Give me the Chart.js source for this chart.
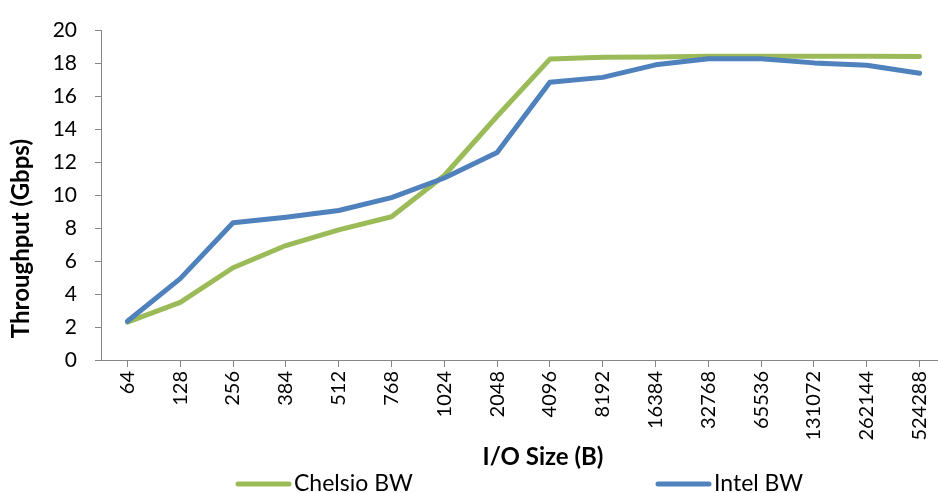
<!DOCTYPE html>
<html>
<head>
<meta charset="utf-8">
<script src="https://cdn.jsdelivr.net/npm/chart.js@4.4.1/dist/chart.umd.min.js"></script>
<style>
  html, body { margin: 0; padding: 0; background: #fff; overflow: hidden; }
</style>
</head>
<body>
<canvas id="grafico" width="960" height="493"></canvas>
<script>
// I/O sizes in bytes (category axis)
const ioSizes = ['64', '128', '256', '384', '512', '768', '1024', '2048', '4096',
  '8192', '16384', '32768', '65536', '131072', '262144', '524288'];

// throughput in Gbps
const chelsioBW = [2.3, 3.5, 5.6, 6.95, 7.9, 8.7, 11.2, 14.8, 18.27, 18.38,
  18.4, 18.45, 18.45, 18.45, 18.45, 18.43];
const intelBW = [2.35, 4.94, 8.33, 8.67, 9.08, 9.86, 11.05, 12.6, 16.86, 17.16,
  17.92, 18.29, 18.29, 18.04, 17.9, 17.41];

const yTitle = 'Throughput (Gbps)';
const xTitle = 'I/O Size (B)';

const axisGray = '#868686';
Chart.defaults.font.family = 'Lato, "Open Sans", sans-serif';
Chart.defaults.color = '#000';

// axis titles, placed off-centre like the original workbook chart
const axisTitles = {
  id: 'axisTitles',
  afterDraw(chart) {
    const { ctx, chartArea: a } = chart;
    ctx.save();
    ctx.fillStyle = '#000';
    ctx.font = 'bold 24px Lato';
    ctx.textAlign = 'center';
    ctx.textBaseline = 'middle';
    ctx.fillText(xTitle, a.left + 442, a.bottom + 97);
    ctx.translate(21, a.top + 208);
    ctx.rotate(-Math.PI / 2);
    ctx.fillText(yTitle, 0, 0);
    ctx.restore();
  }
};

// legend along the bottom with wide gap between the two entries
const bottomLegend = {
  id: 'bottomLegend',
  afterDraw(chart) {
    const { ctx, chartArea: a } = chart;
    const y = a.bottom + 124;
    let x = 235;
    ctx.save();
    ctx.font = '23px Lato';
    ctx.textBaseline = 'middle';
    chart.data.datasets.forEach(ds => {
      ctx.strokeStyle = ds.borderColor;
      ctx.lineWidth = 5;
      ctx.lineCap = 'round';
      ctx.beginPath();
      ctx.moveTo(x + 3, y);
      ctx.lineTo(x + 54, y);
      ctx.stroke();
      ctx.fillStyle = '#000';
      ctx.fillText(ds.label, x + 59, y);
      x += 420;
    });
    ctx.restore();
  }
};

const config = {
  type: 'line',
  data: {
    labels: ioSizes,
    datasets: [
      {
        label: 'Chelsio BW',
        data: chelsioBW,
        borderColor: '#9BBB59',
        backgroundColor: '#9BBB59',
        order: 1
      },
      {
        label: 'Intel BW',
        data: intelBW,
        borderColor: '#4F81BD',
        backgroundColor: '#4F81BD',
        order: 0
      }
    ]
  },
  options: {
    responsive: false,
    animation: false,
    layout: { padding: { top: 20, right: 14, left: 0, bottom: 0 } },
    elements: {
      line: { borderWidth: 5, tension: 0, borderCapStyle: 'round', borderJoinStyle: 'round' },
      point: { radius: 0, hoverRadius: 0 }
    },
    plugins: {
      legend: { display: false },
      tooltip: { enabled: false }
    },
    scales: {
      x: {
        offset: true,
        grid: { offset: false, drawOnChartArea: false, tickLength: 7, color: axisGray },
        border: { color: axisGray, width: 1 },
        ticks: { minRotation: 90, maxRotation: 90, autoSkip: false, padding: 4, font: { size: 20 } },
        afterFit: s => { s.height = 133; }
      },
      y: {
        min: 0,
        max: 20,
        grid: { drawOnChartArea: false, tickLength: 6, color: axisGray },
        border: { color: axisGray, width: 1 },
        ticks: { stepSize: 2, padding: 18, font: { size: 21 } },
        afterFit: s => { s.width = 101; }
      }
    }
  },
  plugins: [axisTitles, bottomLegend]
};

new Chart(document.getElementById('grafico').getContext('2d'), config);
</script>
</body>
</html>
